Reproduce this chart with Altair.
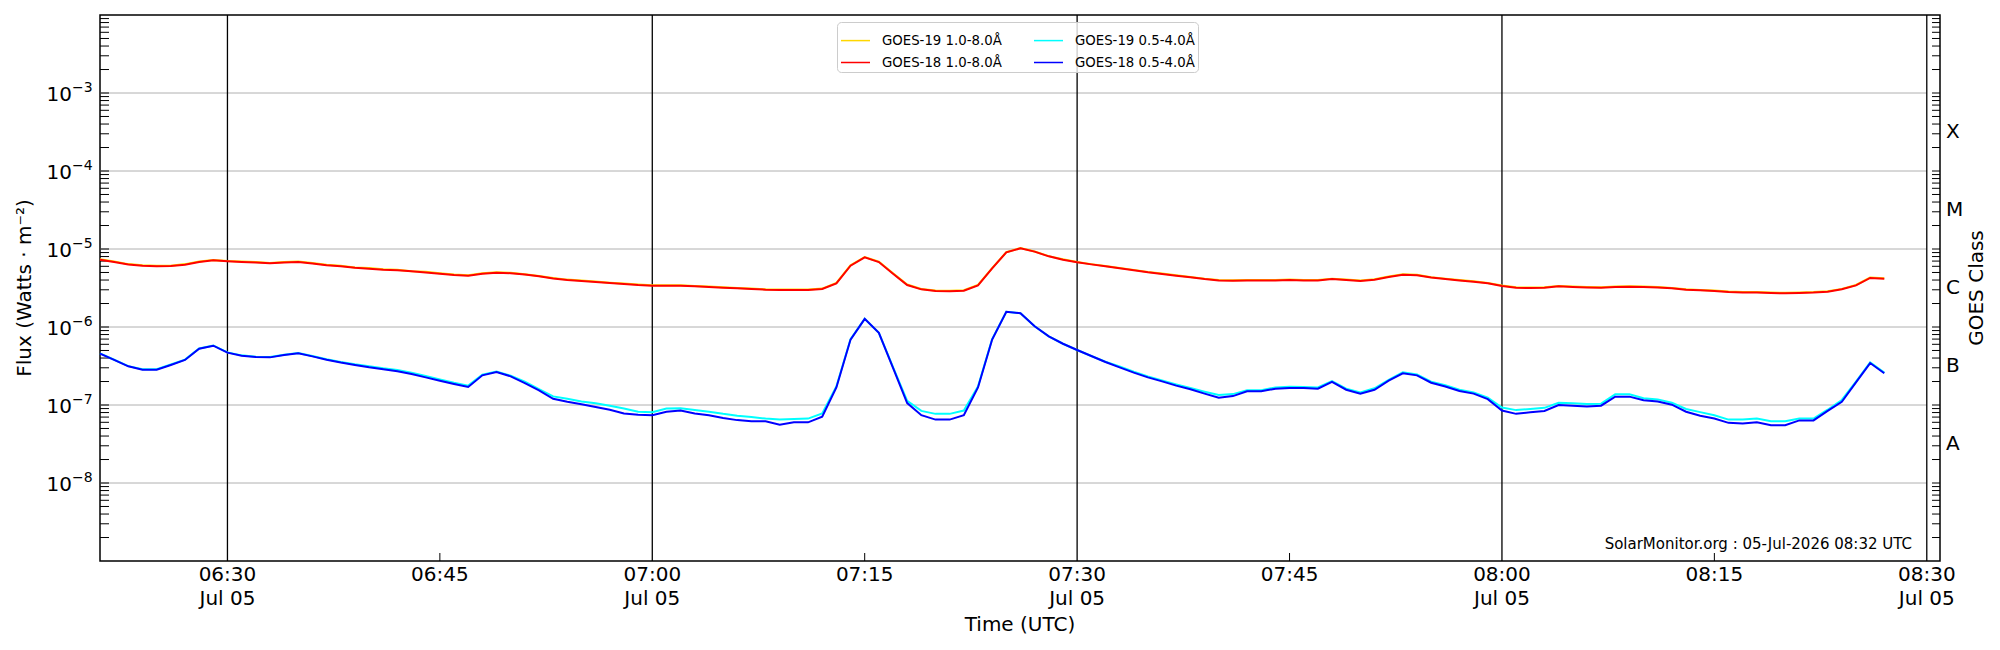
import altair as alt
import pandas as pd

# ---------------- data (1-minute cadence from 06:21 UTC) ----------------
START = "2026-07-05 06:21"

G19_LONG = [
    7.4e-6, 6.9e-6, 6.4e-6, 6.2e-6, 6.1e-6, 6.1e-6, 6.4e-6, 6.9e-6, 7.2e-6, 7.0e-6,
    6.9e-6, 6.8e-6, 6.6e-6, 6.8e-6, 6.9e-6, 6.6e-6, 6.3e-6, 6.1e-6, 5.8e-6, 5.7e-6,
    5.5e-6, 5.4e-6, 5.2e-6, 5.1e-6, 4.9e-6, 4.7e-6, 4.6e-6, 4.9e-6, 5.05e-6, 4.95e-6,
    4.75e-6, 4.5e-6, 4.25e-6, 4.05e-6, 3.94e-6, 3.83e-6, 3.7e-6, 3.6e-6, 3.5e-6, 3.43e-6,
    3.43e-6, 3.43e-6, 3.36e-6, 3.3e-6, 3.23e-6, 3.17e-6, 3.11e-6, 3.05e-6, 3.02e-6, 3.02e-6,
    3.02e-6, 3.11e-6, 3.67e-6, 6.2e-6, 7.9e-6, 6.9e-6, 4.9e-6, 3.5e-6, 3.08e-6, 2.94e-6,
    2.91e-6, 2.96e-6, 3.46e-6, 5.7e-6, 9.1e-6, 1.03e-5, 9.3e-6, 8.1e-6, 7.4e-6, 6.8e-6,
    6.4e-6, 6.07e-6, 5.72e-6, 5.4e-6, 5.08e-6, 4.84e-6, 4.6e-6, 4.38e-6, 4.17e-6, 4.01e-6,
    3.98e-6, 4.01e-6, 4.01e-6, 4.01e-6, 4.05e-6, 4.01e-6, 4.01e-6, 4.17e-6, 4.05e-6, 3.94e-6,
    4.09e-6, 4.43e-6, 4.75e-6, 4.66e-6, 4.35e-6, 4.17e-6, 4.01e-6, 3.86e-6, 3.67e-6, 3.4e-6,
    3.23e-6, 3.2e-6, 3.23e-6, 3.36e-6, 3.3e-6, 3.26e-6, 3.23e-6, 3.3e-6, 3.33e-6, 3.3e-6,
    3.26e-6, 3.17e-6, 3.05e-6, 2.99e-6, 2.94e-6, 2.85e-6, 2.8e-6, 2.8e-6, 2.77e-6, 2.74e-6,
    2.77e-6, 2.8e-6, 2.88e-6, 3.08e-6, 3.46e-6, 4.3e-6, 4.22e-6,
]

G18_LONG = [
    7.3e-6, 6.8e-6, 6.35e-6, 6.1e-6, 6.0e-6, 6.05e-6, 6.3e-6, 6.8e-6, 7.15e-6, 6.95e-6,
    6.8e-6, 6.7e-6, 6.55e-6, 6.7e-6, 6.8e-6, 6.5e-6, 6.2e-6, 6.0e-6, 5.75e-6, 5.6e-6,
    5.43e-6, 5.33e-6, 5.17e-6, 5.0e-6, 4.83e-6, 4.64e-6, 4.55e-6, 4.83e-6, 4.97e-6, 4.9e-6,
    4.7e-6, 4.47e-6, 4.2e-6, 4.0e-6, 3.89e-6, 3.78e-6, 3.66e-6, 3.56e-6, 3.45e-6, 3.39e-6,
    3.39e-6, 3.39e-6, 3.32e-6, 3.26e-6, 3.19e-6, 3.13e-6, 3.07e-6, 3.01e-6, 2.98e-6, 2.98e-6,
    2.98e-6, 3.07e-6, 3.63e-6, 6.11e-6, 7.82e-6, 6.8e-6, 4.83e-6, 3.45e-6, 3.04e-6, 2.9e-6,
    2.87e-6, 2.92e-6, 3.42e-6, 5.65e-6, 9.06e-6, 1.02e-5, 9.25e-6, 8.05e-6, 7.3e-6, 6.75e-6,
    6.35e-6, 6.0e-6, 5.65e-6, 5.33e-6, 5.02e-6, 4.78e-6, 4.55e-6, 4.33e-6, 4.12e-6, 3.96e-6,
    3.93e-6, 3.96e-6, 3.96e-6, 3.96e-6, 4.0e-6, 3.96e-6, 3.96e-6, 4.12e-6, 4.0e-6, 3.89e-6,
    4.04e-6, 4.38e-6, 4.69e-6, 4.6e-6, 4.3e-6, 4.12e-6, 3.96e-6, 3.81e-6, 3.63e-6, 3.36e-6,
    3.19e-6, 3.16e-6, 3.19e-6, 3.32e-6, 3.26e-6, 3.22e-6, 3.19e-6, 3.26e-6, 3.29e-6, 3.26e-6,
    3.22e-6, 3.13e-6, 3.01e-6, 2.95e-6, 2.9e-6, 2.81e-6, 2.76e-6, 2.76e-6, 2.73e-6, 2.7e-6,
    2.73e-6, 2.76e-6, 2.84e-6, 3.04e-6, 3.42e-6, 4.25e-6, 4.17e-6,
]

G19_SHORT = [
    4.6e-7, 3.8e-7, 3.15e-7, 2.87e-7, 2.87e-7, 3.3e-7, 3.82e-7, 5.3e-7, 5.8e-7, 4.73e-7,
    4.33e-7, 4.16e-7, 4.12e-7, 4.42e-7, 4.65e-7, 4.25e-7, 3.86e-7, 3.56e-7, 3.32e-7, 3.13e-7,
    2.95e-7, 2.81e-7, 2.6e-7, 2.35e-7, 2.13e-7, 1.93e-7, 1.77e-7, 2.45e-7, 2.68e-7, 2.38e-7,
    1.99e-7, 1.6e-7, 1.29e-7, 1.2e-7, 1.11e-7, 1.05e-7, 9.8e-8, 9.0e-8, 8.2e-8, 8.1e-8,
    9.0e-8, 9.1e-8, 8.6e-8, 8.2e-8, 7.7e-8, 7.3e-8, 7.0e-8, 6.7e-8, 6.5e-8, 6.6e-8,
    6.7e-8, 7.8e-8, 1.73e-7, 7.0e-7, 1.27e-6, 8.4e-7, 3.05e-7, 1.13e-7, 8.4e-8, 7.7e-8,
    7.7e-8, 8.5e-8, 1.73e-7, 7.0e-7, 1.57e-6, 1.5e-6, 1.02e-6, 7.6e-7, 6.1e-7, 5.07e-7,
    4.25e-7, 3.58e-7, 3.13e-7, 2.68e-7, 2.33e-7, 2.07e-7, 1.84e-7, 1.65e-7, 1.48e-7, 1.34e-7,
    1.38e-7, 1.55e-7, 1.55e-7, 1.68e-7, 1.72e-7, 1.7e-7, 1.68e-7, 2.03e-7, 1.62e-7, 1.45e-7,
    1.64e-7, 2.1e-7, 2.62e-7, 2.47e-7, 1.99e-7, 1.8e-7, 1.57e-7, 1.45e-7, 1.24e-7, 9.3e-8,
    8.6e-8, 8.9e-8, 9.2e-8, 1.07e-7, 1.05e-7, 1.03e-7, 1.04e-7, 1.37e-7, 1.37e-7, 1.22e-7,
    1.18e-7, 1.07e-7, 8.9e-8, 8.1e-8, 7.4e-8, 6.5e-8, 6.5e-8, 6.7e-8, 6.2e-8, 6.2e-8,
    6.7e-8, 6.7e-8, 8.7e-8, 1.16e-7, 1.99e-7, 3.52e-7, 2.6e-7,
]

G18_SHORT = [
    4.55e-7, 3.78e-7, 3.13e-7, 2.84e-7, 2.84e-7, 3.26e-7, 3.78e-7, 5.27e-7, 5.76e-7, 4.69e-7,
    4.29e-7, 4.12e-7, 4.08e-7, 4.38e-7, 4.6e-7, 4.2e-7, 3.81e-7, 3.5e-7, 3.26e-7, 3.04e-7,
    2.87e-7, 2.7e-7, 2.49e-7, 2.26e-7, 2.05e-7, 1.86e-7, 1.7e-7, 2.4e-7, 2.65e-7, 2.33e-7,
    1.91e-7, 1.54e-7, 1.2e-7, 1.1e-7, 1.02e-7, 9.4e-8, 8.7e-8, 7.8e-8, 7.5e-8, 7.4e-8,
    8.2e-8, 8.5e-8, 7.8e-8, 7.4e-8, 6.8e-8, 6.4e-8, 6.2e-8, 6.2e-8, 5.6e-8, 6.0e-8,
    6.0e-8, 7.1e-8, 1.68e-7, 6.9e-7, 1.27e-6, 8.4e-7, 3.0e-7, 1.06e-7, 7.4e-8, 6.5e-8,
    6.5e-8, 7.4e-8, 1.68e-7, 6.9e-7, 1.57e-6, 1.5e-6, 1.02e-6, 7.6e-7, 6.1e-7, 5.07e-7,
    4.25e-7, 3.56e-7, 3.04e-7, 2.6e-7, 2.26e-7, 2.01e-7, 1.77e-7, 1.59e-7, 1.4e-7, 1.24e-7,
    1.3e-7, 1.5e-7, 1.5e-7, 1.62e-7, 1.65e-7, 1.65e-7, 1.62e-7, 1.98e-7, 1.57e-7, 1.4e-7,
    1.57e-7, 2.05e-7, 2.55e-7, 2.4e-7, 1.93e-7, 1.73e-7, 1.51e-7, 1.4e-7, 1.19e-7, 8.5e-8,
    7.7e-8, 8.1e-8, 8.4e-8, 1.0e-7, 9.8e-8, 9.6e-8, 9.8e-8, 1.28e-7, 1.28e-7, 1.15e-7,
    1.11e-7, 1.01e-7, 8.2e-8, 7.3e-8, 6.7e-8, 5.9e-8, 5.8e-8, 6.0e-8, 5.5e-8, 5.5e-8,
    6.35e-8, 6.35e-8, 8.4e-8, 1.1e-7, 1.95e-7, 3.45e-7, 2.55e-7,
]

# legend domain order (legend fills column by column: col 1 = 1.0-8.0, col 2 = 0.5-4.0)
SERIES_NAMES = ["GOES-19 1.0-8.0Å", "GOES-18 1.0-8.0Å", "GOES-19 0.5-4.0Å", "GOES-18 0.5-4.0Å"]
SERIES_COLORS = ["#ffd700", "#ff0000", "#00ffff", "#0000ff"]

HALF_HOURS = ["2026-07-05T06:30:00Z", "2026-07-05T07:00:00Z", "2026-07-05T07:30:00Z",
              "2026-07-05T08:00:00Z", "2026-07-05T08:30:00Z"]
QUARTER_HOURS = ["2026-07-05T06:45:00Z", "2026-07-05T07:15:00Z",
                 "2026-07-05T07:45:00Z", "2026-07-05T08:15:00Z"]

XTICK_TIMES = ["2026-07-05T06:30:00Z", "2026-07-05T06:45:00Z", "2026-07-05T07:00:00Z",
               "2026-07-05T07:15:00Z", "2026-07-05T07:30:00Z", "2026-07-05T07:45:00Z",
               "2026-07-05T08:00:00Z", "2026-07-05T08:15:00Z", "2026-07-05T08:30:00Z"]
XTICK_TOP = ["06:30", "06:45", "07:00", "07:15", "07:30", "07:45", "08:00", "08:15", "08:30"]
XTICK_BOTTOM = ["Jul 05", "", "Jul 05", "", "Jul 05", "", "Jul 05", "", "Jul 05"]

DECADES = [1e-3, 1e-4, 1e-5, 1e-6, 1e-7, 1e-8]
DECADE_EXPONENTS = ["−3", "−4", "−5", "−6", "−7", "−8"]
CLASS_LABELS = ["X", "M", "C", "B", "A"]
CLASS_LEVELS = [3.162e-4, 3.162e-5, 3.162e-6, 3.162e-7, 3.162e-8]
LOG_TICKS = [k * 10.0 ** n for n in range(-9, -2) for k in range(1, 10) if not (n == -9 and k == 1)]

Y_TITLE = "Flux (Watts · m⁻²)"
Y2_TITLE = "GOES Class"
X_TITLE = "Time (UTC)"
WATERMARK = "SolarMonitor.org : 05-Jul-2026 08:32 UTC"

# ---------------- layout ----------------
W, H = 1840, 546
FONT = "DejaVu Sans"


def dt(h, m, s=0):
    return alt.DateTime(year=2026, month=7, date=5, hours=h, minutes=m, seconds=s, utc=True)


xscale = alt.Scale(type="utc", domain=[dt(6, 21), dt(8, 30, 56)], nice=False)
yscale = alt.Scale(type="log", domain=[1e-9, 1e-2], nice=False)

times = pd.date_range(START, periods=len(G18_LONG), freq="min").strftime("%Y-%m-%dT%H:%M:%SZ")

legend = alt.Legend(
    title=None, orient="none", legendX=737, legendY=7, columns=2,
    symbolType="stroke", symbolSize=841, symbolStrokeWidth=1.5,
    labelFont=FONT, labelFontSize=13.3, labelColor="black", labelOffset=11,
    columnPadding=29, rowPadding=-1.5, padding=3,
    fillColor="rgba(255,255,255,0.8)", strokeColor="#cccccc", cornerRadius=4,
)
color = alt.Color("series:N", scale=alt.Scale(domain=SERIES_NAMES, range=SERIES_COLORS), legend=legend)

# grid lines (stop at the 08:30 frame line)
grid = alt.Chart(pd.DataFrame({"v": DECADES})).mark_rule(color="#b0b0b0", strokeWidth=1).encode(
    y=alt.Y("v:Q", scale=yscale, axis=None),
    x=alt.X(datum=dt(6, 21), scale=xscale, axis=None),
    x2=alt.X2(datum=dt(8, 30)),
)

left_ticks = alt.Chart(pd.DataFrame({"v": LOG_TICKS})).mark_rule(color="black", strokeWidth=1).encode(
    y=alt.Y("v:Q", scale=yscale, axis=None), x=alt.value(0), x2=alt.value(9))
right_ticks = alt.Chart(pd.DataFrame({"v": LOG_TICKS})).mark_rule(color="black", strokeWidth=1).encode(
    y=alt.Y("v:Q", scale=yscale, axis=None), x=alt.value(W), x2=alt.value(W - 8))

half_lines = alt.Chart(pd.DataFrame({"t": HALF_HOURS})).mark_rule(color="black", strokeWidth=1.3).encode(
    x=alt.X("t:T", scale=xscale, axis=None))
quarter_ticks = alt.Chart(pd.DataFrame({"t": QUARTER_HOURS})).mark_rule(color="black", strokeWidth=1).encode(
    x=alt.X("t:T", scale=xscale, axis=None), y=alt.value(H), y2=alt.value(H - 8))


def line_layer(name, values):
    df = pd.DataFrame({"time": times, "flux": values, "series": name})
    return alt.Chart(df).mark_line(strokeWidth=2).encode(
        x=alt.X("time:T", scale=xscale, axis=None),
        y=alt.Y("flux:Q", scale=yscale, axis=None),
        color=color,
    )


# drawing order: GOES-19 long, GOES-18 long, GOES-19 short, GOES-18 short
lines = [
    line_layer("GOES-19 1.0-8.0Å", G19_LONG),
    line_layer("GOES-18 1.0-8.0Å", G18_LONG),
    line_layer("GOES-19 0.5-4.0Å", G19_SHORT),
    line_layer("GOES-18 0.5-4.0Å", G18_SHORT),
]

# x tick labels (two lines) and title
xt_df = pd.DataFrame({"t": XTICK_TIMES, "top": XTICK_TOP, "bottom": XTICK_BOTTOM})
x_top = alt.Chart(xt_df).mark_text(align="center", baseline="alphabetic", fontSize=20, font=FONT,
                                   color="black").encode(
    x=alt.X("t:T", scale=xscale, axis=None), y=alt.value(H + 20.4), text="top:N")
x_bottom = alt.Chart(xt_df).mark_text(align="center", baseline="alphabetic", fontSize=20, font=FONT,
                                      color="black").encode(
    x=alt.X("t:T", scale=xscale, axis=None), y=alt.value(H + 43.7), text="bottom:N")
x_title = alt.Chart(pd.DataFrame({"s": [X_TITLE]})).mark_text(
    align="center", baseline="alphabetic", fontSize=20, font=FONT, color="black").encode(
    x=alt.value(W / 2), y=alt.value(H + 69.7), text="s:N")

# y tick labels 10^n
dec_df = pd.DataFrame({"v": DECADES, "e": DECADE_EXPONENTS})
ten_labels = alt.Chart(dec_df).mark_text(align="right", baseline="alphabetic", dy=8, fontSize=20,
                                         font=FONT, color="black").encode(
    y=alt.Y("v:Q", scale=yscale, axis=None), x=alt.value(-28), text=alt.value("10"))
exp_labels = alt.Chart(dec_df).mark_text(align="left", baseline="alphabetic", dy=-1, fontSize=14,
                                         font=FONT, color="black").encode(
    y=alt.Y("v:Q", scale=yscale, axis=None), x=alt.value(-28), text="e:N")

class_labels = alt.Chart(pd.DataFrame({"v": CLASS_LEVELS, "c": CLASS_LABELS})).mark_text(
    align="left", baseline="middle", fontSize=20, font=FONT, color="black").encode(
    y=alt.Y("v:Q", scale=yscale, axis=None), x=alt.value(W + 6), text="c:N")

y_title = alt.Chart(pd.DataFrame({"s": [Y_TITLE]})).mark_text(
    angle=270, align="center", baseline="middle", fontSize=20, font=FONT, color="black").encode(
    x=alt.value(-75), y=alt.value(H / 2), text="s:N")
y2_title = alt.Chart(pd.DataFrame({"s": [Y2_TITLE]})).mark_text(
    angle=270, align="center", baseline="middle", fontSize=20, font=FONT, color="black").encode(
    x=alt.value(W + 37), y=alt.value(H / 2), text="s:N")
watermark = alt.Chart(pd.DataFrame({"s": [WATERMARK]})).mark_text(
    align="right", baseline="alphabetic", fontSize=15, font=FONT, color="black").encode(
    x=alt.value(1812), y=alt.value(534), text="s:N")

chart = alt.layer(
    grid, left_ticks, right_ticks, half_lines, quarter_ticks, *lines,
    x_top, x_bottom, x_title, ten_labels, exp_labels, class_labels, y_title, y2_title, watermark,
).properties(
    width=W, height=H,
    autosize=alt.AutoSizeParams(type="none"),
    padding={"left": 92, "top": 7, "right": 52, "bottom": 81},
    background="white",
).configure(font=FONT).configure_view(stroke="black", strokeWidth=1.5)

chart.save("out.html", embed_options={"renderer": "svg", "actions": False})
